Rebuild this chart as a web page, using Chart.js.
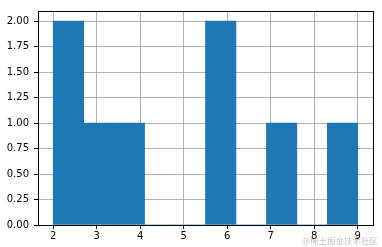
<!DOCTYPE html>
<html>
<head>
<meta charset="utf-8">
<script src="https://cdn.jsdelivr.net/npm/chart.js@4/dist/chart.umd.min.js"></script>
<style>
  html, body { margin: 0; padding: 0; background: #fff; }
  #wrap { position: relative; width: 382px; height: 247px; }
  #wm { position: absolute; right: 4px; bottom: 1px; font-family: "Noto Sans CJK SC", sans-serif; font-size: 8.5px; color: rgba(140,140,140,0.55); white-space: nowrap; }
</style>
</head>
<body>
<div id="wrap">
  <canvas id="c" width="382" height="247"></canvas>
  <div id="wm">@稀土掘金技术社区</div>
</div>
<script>
// Histogram bins (start of each bin), bin width and counts
const binStarts = [2.0, 2.7, 3.4, 4.1, 4.8, 5.5, 6.2, 6.9, 7.6, 8.3];
const binWidth = 0.7;
const counts = [2, 1, 1, 0, 0, 2, 0, 1, 0, 1];
const xTicks = [2, 3, 4, 5, 6, 7, 8, 9];
const yTicks = [0, 0.25, 0.5, 0.75, 1.0, 1.25, 1.5, 1.75, 2.0];
const xRange = [1.65, 9.35];
const yRange = [0, 2.1];

const points = binStarts.map((s, i) => ({ x: s + binWidth / 2, y: counts[i] }));
const font = { family: "DejaVu Sans", size: 10 };

new Chart(document.getElementById('c'), {
  type: 'bar',
  data: {
    datasets: [{
      data: points,
      backgroundColor: '#1f77b4',
      borderWidth: 0,
      barPercentage: 1,
      categoryPercentage: 1
    }]
  },
  options: {
    responsive: false,
    devicePixelRatio: 1,
    animation: false,
    layout: { padding: { left: 0, top: 7, right: 9, bottom: 0 } },
    plugins: { legend: { display: false }, tooltip: { enabled: false } },
    scales: {
      x: {
        type: 'linear', position: 'bottom', offset: false,
        min: xRange[0], max: xRange[1], z: 1,
        afterBuildTicks: s => { s.ticks = xTicks.map(v => ({ value: v })); },
        afterFit: s => { s.height = 22; },
        grid: { color: '#b0b0b0', lineWidth: 1, tickColor: '#000', tickLength: 4, offset: false },
        border: { display: true, color: '#000', width: 1 },
        ticks: { font: font, color: '#000', padding: 1, maxRotation: 0, callback: v => String(v) }
      },
      y: {
        type: 'linear', position: 'left',
        min: yRange[0], max: yRange[1], z: 1,
        afterBuildTicks: s => { s.ticks = yTicks.map(v => ({ value: v })); },
        afterFit: s => { s.width = 38; },
        grid: { color: '#b0b0b0', lineWidth: 1, tickColor: '#000', tickLength: 4 },
        border: { display: true, color: '#000', width: 1 },
        ticks: { font: font, color: '#000', padding: 5, callback: v => Number(v).toFixed(2) }
      },
      x2: {
        type: 'linear', position: 'top', min: xRange[0], max: xRange[1], z: 1,
        grid: { display: false, drawTicks: false },
        border: { display: true, color: '#000', width: 1 },
        ticks: { display: false }
      },
      y2: {
        type: 'linear', position: 'right', min: yRange[0], max: yRange[1], z: 1,
        grid: { display: false, drawTicks: false },
        border: { display: true, color: '#000', width: 1 },
        ticks: { display: false }
      }
    }
  }
});
</script>
</body>
</html>
